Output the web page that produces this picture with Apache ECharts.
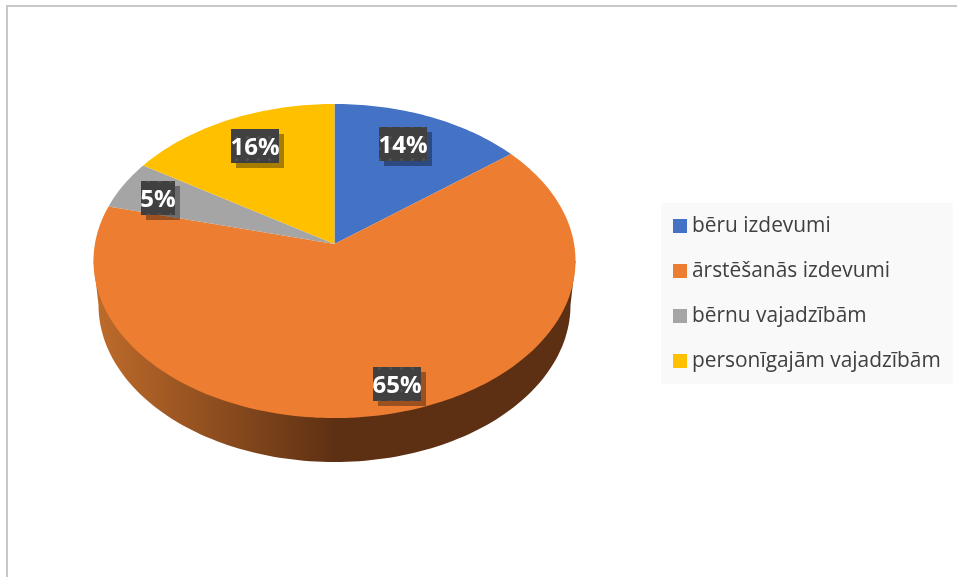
<!DOCTYPE html>
<html>
<head>
<meta charset="utf-8">
<style>
html, body { margin: 0; padding: 0; background: #fff; }
#main { width: 957px; height: 577px; }
</style>
<script src="https://cdn.jsdelivr.net/npm/echarts@6/dist/echarts.min.js"></script>
</head>
<body>
<div id="main"></div>
<script>
var categories = ['bēru izdevumi', 'ārstēšanās izdevumi', 'bērnu vajadzībām', 'personīgajām vajadzībām'];
var shares = [14.4, 64.6, 5, 16];
var labels = ['14%', '65%', '5%', '16%'];
var colors = ['#4472c4', '#ed7d31', '#a5a5a5', '#ffc000'];

// 3d look of the pie: the disc is tilted, so the centre sits above the middle of the ellipse
var pie = { x: 334.5, y: 244, a: 239.6, b: 155.2, k: -0.1083 };
var wall = { cy: 261, rx: 241, depth: 44, lowRx: 236, ry: 157 };
// where the data labels sit (box centres)
var labelBoxes = [[403, 144, 48], [397, 384, 48], [158, 198, 34], [255, 146, 48]];

var total = shares.reduce(function (a, b) { return a + b; }, 0);

function project(angle) {
	var u = Math.sin(angle), v = -Math.cos(angle);
	var w = 1 + pie.k * v;
	return [pie.x + pie.a * u / w, pie.y + pie.b * v / w];
}

function slicePoints(index) {
	var before = 0;
	for (var i = 0; i < index; i++) before += shares[i];
	var from = before / total * Math.PI * 2;
	var to = (before + shares[index]) / total * Math.PI * 2;
	var pts = [[pie.x, pie.y]];
	var steps = Math.ceil(shares[index] * 3);
	for (var s = 0; s <= steps; s++) {
		pts.push(project(from + (to - from) * s / steps));
	}
	return pts;
}

function wallPoints() {
	var pts = [[pie.x - wall.rx, wall.cy]];
	var lowY = wall.cy + wall.depth;
	for (var s = 0; s <= 120; s++) {
		var t = Math.PI - Math.PI * s / 120;
		pts.push([pie.x + wall.lowRx * Math.cos(t), lowY + wall.ry * Math.sin(t)]);
	}
	pts.push([pie.x + wall.rx, wall.cy]);
	return pts;
}

function dotPattern() {
	var c = document.createElement('canvas');
	c.width = 11;
	c.height = 11;
	var ctx = c.getContext('2d');
	ctx.fillStyle = '#404040';
	ctx.fillRect(0, 0, 11, 11);
	ctx.fillStyle = '#505050';
	ctx.beginPath();
	ctx.arc(5.5, 5.5, 1.6, 0, Math.PI * 2);
	ctx.fill();
	return c;
}
var pattern = { image: dotPattern(), repeat: 'repeat' };

var series = [{
	type: 'custom',
	coordinateSystem: 'none',
	silent: true,
	data: [0],
	renderItem: function () {
		return {
			type: 'polygon',
			shape: { points: wallPoints() },
			style: {
				fill: new echarts.graphic.LinearGradient(0, 0, 1, 0, [
					{ offset: 0, color: '#bf6c2b' },
					{ offset: 0.5, color: '#5e3013' },
					{ offset: 1, color: '#5e3013' }
				])
			}
		};
	}
}];

categories.forEach(function (name, i) {
	series.push({
		type: 'custom',
		name: name,
		coordinateSystem: 'none',
		silent: true,
		itemStyle: { color: colors[i] },
		data: [shares[i]],
		renderItem: function () {
			return {
				type: 'polygon',
				shape: { points: slicePoints(i) },
				style: { fill: colors[i] }
			};
		}
	});
});

series.push({
	type: 'custom',
	coordinateSystem: 'none',
	silent: true,
	data: labels,
	renderItem: function (params) {
		var box = labelBoxes[params.dataIndex];
		var left = box[0] - box[2] / 2, top = box[1] - 17;
		return {
			type: 'group',
			children: [{
				type: 'rect',
				shape: { x: left + 5, y: top + 5, width: box[2], height: 34 },
				style: { fill: 'rgba(0,0,0,0.35)' }
			}, {
				type: 'rect',
				shape: { x: left, y: top, width: box[2], height: 34 },
				style: { fill: pattern }
			}, {
				type: 'text',
				style: {
					x: box[0],
					y: box[1] + 2,
					text: labels[params.dataIndex],
					fill: '#fff',
					font: 'bold 24px "Open Sans"',
					align: 'center',
					verticalAlign: 'middle'
				}
			}]
		};
	}
});

var chart = echarts.init(document.getElementById('main'));
chart.setOption({
	animation: false,
	graphic: [{
		type: 'rect',
		shape: { x: 6, y: 5, width: 951, height: 2 },
		style: { fill: '#c8c8c8' }
	}, {
		type: 'rect',
		shape: { x: 6, y: 5, width: 2, height: 572 },
		style: { fill: '#c8c8c8' }
	}],
	legend: {
		data: categories,
		orient: 'vertical',
		left: 661,
		top: 203,
		backgroundColor: '#f9f9f9',
		padding: [11, 12, 11, 12],
		icon: 'rect',
		itemWidth: 14,
		itemHeight: 14,
		itemGap: 21,
		selectedMode: false,
		textStyle: {
			color: '#404040',
			fontFamily: 'Open Sans',
			fontSize: 20.9,
			lineHeight: 24
		}
	},
	series: series
});
</script>
</body>
</html>
